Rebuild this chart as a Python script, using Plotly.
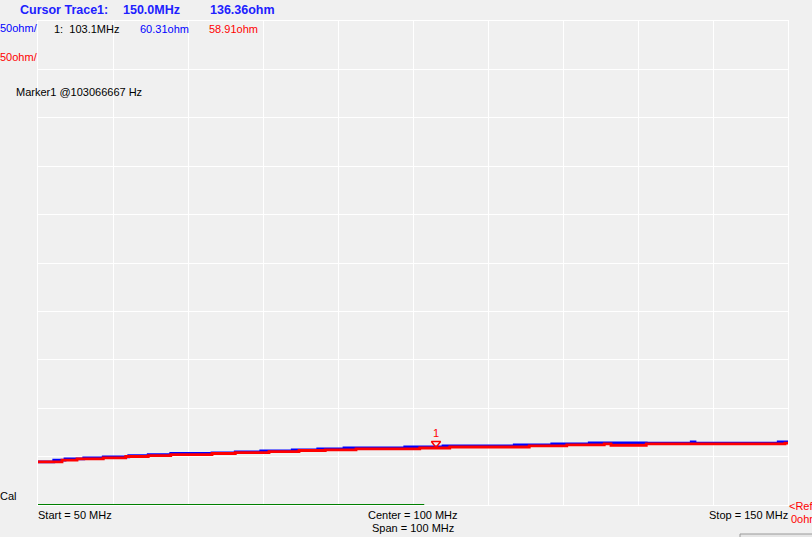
import plotly.graph_objects as go

# trace data (MHz / ohm), stepped display
red_freq = [50.0, 53.2, 55.2, 58.7, 61.7, 64.7, 67.7, 73.2, 76.3, 80.8, 84.8, 88.3,
            92.4, 100.9, 104.9, 115.5, 120.5, 125.5, 126.4, 131.1, 149.6, 150.0]
red_ohm = [44.6, 46.3, 47.7, 48.7, 50.1, 51.1, 52.1, 53.2, 54.2, 55.2, 56.3, 57.0,
           58.0, 58.9, 59.9, 61.1, 62.2, 63.2, 61.7, 63.2, 64.0, 64.0]

blue_freq = [50.0, 52.1, 53.6, 56.1, 58.7, 62.1, 64.7, 67.7, 73.2, 76.3, 79.7, 83.9,
             87.3, 90.8, 98.9, 104.0, 113.5, 118.5, 123.5, 131.1, 137.1, 137.6, 148.7, 150.0]
blue_ohm = [44.6, 46.3, 47.7, 48.7, 49.8, 51.1, 52.1, 53.2, 53.9, 54.9, 56.0, 57.0,
            58.0, 59.0, 60.1, 61.1, 62.2, 63.2, 64.2, 63.8, 65.2, 63.8, 65.2, 65.2]

marker_freq = 103.066667
marker_ohm = 60.31
sweep_done_mhz = 101.5   # green sweep progress bar along the bottom

start_mhz, stop_mhz = 50, 150
ref_ohm, scale_ohm = 0, 50

W, H = 812, 537
L, R, T, B = 38, 24, 21, 32
BG = "#f0f0f0"
FONT = "Liberation Sans, Arial, sans-serif"


def px(x):
    return (x - L) / (W - L - R)


def py(y):
    return (H - B - y) / (H - T - B)


fig = go.Figure()

fig.add_trace(go.Scatter(x=blue_freq, y=blue_ohm, mode="lines", line_shape="hv",
                         line=dict(color="#0000ff", width=2.8), hoverinfo="skip"))
fig.add_trace(go.Scatter(x=red_freq, y=red_ohm, mode="lines", line_shape="hv",
                         line=dict(color="#ff0000", width=2.8), hoverinfo="skip"))

# marker 1
fig.add_trace(go.Scatter(x=[marker_freq], y=[marker_ohm + 3.3], mode="markers",
                         marker=dict(symbol="triangle-down-open", size=8,
                                     color="#ff0000", line=dict(width=1.5, color="#ff0000")),
                         hoverinfo="skip"))
fig.add_annotation(x=marker_freq, y=marker_ohm, text="1", showarrow=False,
                   yshift=14, font=dict(family=FONT, size=11, color="#ff0000"))

# sweep progress line
fig.add_shape(type="line", x0=start_mhz, x1=sweep_done_mhz, y0=ref_ohm, y1=ref_ohm,
              line=dict(color="#008000", width=2), layer="above")

# bottom-right button edge
fig.add_shape(type="rect", xref="paper", yref="paper", x0=px(740), x1=px(814),
              y0=py(540), y1=py(534), fillcolor="#e6e6e6",
              line=dict(color="#9a9a9a", width=1))

texts = [
    # text, x px, y px, anchor, color, size, bold
    ("Cursor Trace1:", 20, 10, "left", "#2020ff", 12.5, True),
    ("150.0MHz", 123, 10, "left", "#2020ff", 12.5, True),
    ("136.36ohm", 210, 10, "left", "#2020ff", 12.5, True),
    ("50ohm/", 0, 28, "left", "#0000ff", 11, False),
    ("1:  103.1MHz", 54, 29, "left", "#000000", 11, False),
    ("60.31ohm", 140, 29, "left", "#0000ff", 11, False),
    ("58.91ohm", 209, 29, "left", "#ff0000", 11, False),
    ("50ohm/", 0, 57, "left", "#ff0000", 11, False),
    ("Marker1 @103066667 Hz", 16, 92, "left", "#000000", 11, False),
    ("Cal", 0, 496, "left", "#000000", 11, False),
    ("Start = 50 MHz", 38, 515, "left", "#000000", 11, False),
    ("Center = 100 MHz", 413, 515, "center", "#000000", 11, False),
    ("Span = 100 MHz", 413, 528, "center", "#000000", 11, False),
    ("Stop = 150 MHz", 788, 515, "right", "#000000", 11, False),
    ("<Ref", 789, 506, "left", "#ff0000", 11, False),
    ("0ohm", 791, 519, "left", "#ff0000", 11, False),
    ("=>", 0, 542, "left", "#000000", 11, False),
]
# annotation boxes carry ~2px of padding, pull them back to the pixel spot
nudge = {"left": -2, "right": 2, "center": 0}
for t, x, y, anchor, color, size, bold in texts:
    fig.add_annotation(xref="paper", yref="paper", x=px(x + nudge[anchor]), y=py(y),
                       text=f"<b>{t}</b>" if bold else t, showarrow=False,
                       xanchor=anchor, yanchor="middle",
                       font=dict(family=FONT, size=size, color=color))

fig.update_layout(
    width=W, height=H,
    margin=dict(l=L, r=R, t=T, b=B, pad=0),
    paper_bgcolor=BG, plot_bgcolor=BG,
    showlegend=False,
    xaxis=dict(range=[start_mhz, stop_mhz], dtick=10, showticklabels=False,
               showgrid=True, gridcolor="white", gridwidth=1, zeroline=False,
               showline=True, linecolor="white", linewidth=1, mirror=True, ticks=""),
    yaxis=dict(range=[ref_ohm, ref_ohm + 10 * scale_ohm], dtick=scale_ohm, showticklabels=False,
               showgrid=True, gridcolor="white", gridwidth=1, zeroline=False,
               showline=True, linecolor="white", linewidth=1, mirror=True, ticks=""),
)

# page body has a default 8px margin; drop it so the figure sits at 0,0
fig.write_html("out.html", config={"displayModeBar": False},
               post_script="document.body.style.margin='0';document.body.style.background='%s';" % BG)
